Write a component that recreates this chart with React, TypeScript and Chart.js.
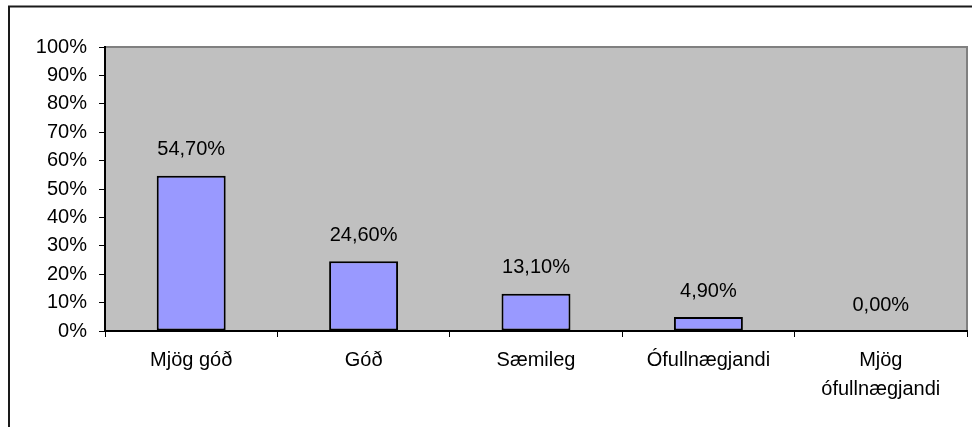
import React, { useEffect, useRef } from "react";
import { Chart, registerables } from "chart.js";

Chart.register(...registerables);

const categories: (string | string[])[] = [
  "Mjög góð",
  "Góð",
  "Sæmileg",
  "Ófullnægjandi",
  ["Mjög", "ófullnægjandi"],
];
const values: number[] = [54.7, 24.6, 13.1, 4.9, 0.0];

const FONT = "'Liberation Sans', Arial, sans-serif";

const backgroundPlugin = {
  id: "plotBackground",
  beforeDraw(chart: any) {
    const { ctx, chartArea } = chart;
    const { left, top, right, bottom } = chartArea;
    ctx.save();
    ctx.fillStyle = "#ffffff";
    ctx.fillRect(0, 0, chart.width, chart.height);
    // outer frame
    ctx.strokeStyle = "#1a1a1a";
    ctx.lineWidth = 2;
    ctx.strokeRect(9, 6.5, chart.width + 20, chart.height + 20);
    // plot area
    ctx.fillStyle = "#c0c0c0";
    ctx.fillRect(left, top, right - left, bottom - top);
    ctx.strokeStyle = "#808080";
    ctx.lineWidth = 2;
    ctx.beginPath();
    ctx.moveTo(left, top);
    ctx.lineTo(right, top);
    ctx.lineTo(right, bottom);
    ctx.stroke();
    ctx.restore();
  },
};

const labelPlugin = {
  id: "valueLabels",
  afterDatasetsDraw(chart: any) {
    const { ctx } = chart;
    const meta = chart.getDatasetMeta(0);
    ctx.save();
    ctx.font = `20px ${FONT}`;
    ctx.fillStyle = "#000";
    ctx.textAlign = "center";
    ctx.textBaseline = "middle";
    meta.data.forEach((bar: any, i: number) => {
      const txt = values[i].toFixed(2).replace(".", ",") + "%";
      ctx.fillText(txt, bar.x, bar.y - 26);
    });
    ctx.restore();
  },
};

export default function App() {
  const ref = useRef<HTMLCanvasElement>(null);
  useEffect(() => {
    document.body.style.margin = "0";
    const chart = new Chart(ref.current as HTMLCanvasElement, {
      type: "bar",
      data: {
        labels: categories as any,
        datasets: [
          {
            data: values,
            backgroundColor: "#9999ff",
            borderColor: "#000000",
            borderWidth: 2,
            borderSkipped: false,
            barPercentage: 0.4,
            categoryPercentage: 1,
          },
        ],
      },
      options: {
        animation: false,
        responsive: false,
        layout: { padding: { top: 47, right: 5, left: 0, bottom: 0 } },
        plugins: { legend: { display: false }, tooltip: { enabled: false } },
        scales: {
          x: {
            offset: true,
            grid: {
              offset: true,
              drawOnChartArea: false,
              drawTicks: true,
              tickLength: 6,
              tickColor: "#000",
              color: "#000",
            },
            border: { color: "#000", width: 2 },
            ticks: {
              color: "#000",
              font: { family: FONT, size: 20, lineHeight: 1.45 },
              padding: 9,
              maxRotation: 0,
              autoSkip: false,
            },
            afterFit: (s: any) => {
              s.height = 96;
            },
          },
          y: {
            min: 0,
            max: 100,
            grid: {
              drawOnChartArea: false,
              drawTicks: true,
              tickLength: 6,
              tickColor: "#000",
              color: "#000",
            },
            border: { color: "#000", width: 2 },
            ticks: {
              stepSize: 10,
              color: "#000",
              font: { family: FONT, size: 20 },
              padding: 12,
              callback: (v: any) => `${v}%`,
            },
            afterFit: (s: any) => {
              s.width = 105;
            },
          },
        },
      },
      plugins: [backgroundPlugin, labelPlugin],
    });
    return () => chart.destroy();
  }, []);
  return (
    <div style={{ width: 972, height: 427 }}>
      <canvas ref={ref} width={972} height={427} style={{ display: "block" }} />
    </div>
  );
}
